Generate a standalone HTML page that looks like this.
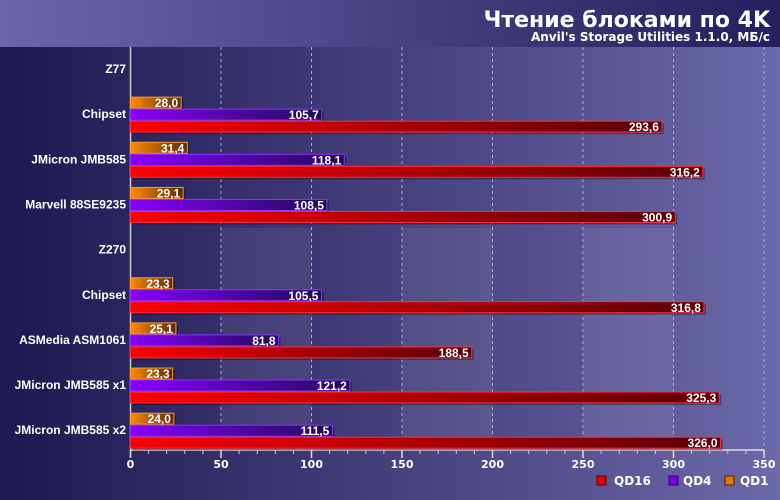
<!DOCTYPE html>
<html><head><meta charset="utf-8"><style>
html,body{margin:0;padding:0;width:780px;height:500px;overflow:hidden;background:#1e1850;}
svg{display:block;}
svg text{font-family:"Liberation Sans","DejaVu Sans",sans-serif;font-weight:bold;}
</style></head><body>
<svg id="c" width="780" height="500" xmlns="http://www.w3.org/2000/svg">
<defs>
<linearGradient id="hdr" x1="0" x2="1"><stop offset="0" stop-color="#6a66a8"/><stop offset="1" stop-color="#24205e"/></linearGradient>
<linearGradient id="bg" x1="0" x2="1"><stop offset="0" stop-color="#1e1850"/><stop offset="1" stop-color="#6c69aa"/></linearGradient>
<linearGradient id="gr" x1="0" x2="1"><stop offset="0" stop-color="#ff0000"/><stop offset="1" stop-color="#5a0008"/></linearGradient>
<linearGradient id="gp" x1="0" x2="1"><stop offset="0" stop-color="#8800ff"/><stop offset="1" stop-color="#200a5a"/></linearGradient>
<linearGradient id="go" x1="0" x2="1"><stop offset="0" stop-color="#ff8a00"/><stop offset="1" stop-color="#5a2a08"/></linearGradient>
</defs>
<rect width="780" height="500" fill="url(#bg)"/>
<rect width="780" height="47" fill="url(#hdr)"/>
<text x="770" y="27" text-anchor="end" fill="#fff" font-size="22" style="font-family:'DejaVu Sans',sans-serif">Чтение блоками по 4K</text>
<text x="770" y="41" text-anchor="end" fill="#fff" font-size="12" style="font-family:'DejaVu Sans',sans-serif">Anvil's Storage Utilities 1.1.0, МБ/с</text>
<g id="plot"></g>
<g>
<rect x="597" y="476" width="9" height="9" fill="#e00010" stroke="#600"/>
<text x="614" y="485" fill="#fff" font-size="12" style="font-family:'DejaVu Sans',sans-serif">QD16</text>
<rect x="669" y="476" width="9" height="9" fill="#7a00ee" stroke="#306"/>
<text x="683" y="485" fill="#fff" font-size="12" style="font-family:'DejaVu Sans',sans-serif">QD4</text>
<rect x="725" y="476" width="9" height="9" fill="#e07800" stroke="#520"/>
<text x="740" y="485" fill="#fff" font-size="12" style="font-family:'DejaVu Sans',sans-serif">QD1</text>
</g>
</svg>
<script>
const categories=["Z77","Chipset","JMicron JMB585","Marvell 88SE9235","Z270","Chipset","ASMedia ASM1061","JMicron JMB585 x1","JMicron JMB585 x2"];
const qd1=[null,28.0,31.4,29.1,null,23.3,25.1,23.3,24.0];
const qd4=[null,105.7,118.1,108.5,null,105.5,81.8,121.2,111.5];
const qd16=[null,293.6,316.2,300.9,null,316.8,188.5,325.3,326.0];
const ticks=[0,50,100,150,200,250,300,350];
const NS="http://www.w3.org/2000/svg";
const g=document.getElementById('plot');
const x0=130.5,xs=1.81;
const X=v=>x0+v*xs;
const Y=i=>69+45.15*i;
function mk(t,a){const e=document.createElementNS(NS,t);for(const k in a)e.setAttribute(k,a[k]);g.appendChild(e);return e;}
[[50,100],[150,200],[250,300]].forEach(b=>{
 const r=mk('rect',{x:X(b[0]),y:228,width:X(b[1])-X(b[0]),height:222,fill:'#fff','fill-opacity':0.07});
 
 
});
ticks.forEach(t=>{
 if(t>0){const l=mk('line',{x1:X(t),x2:X(t),y1:47,y2:450,stroke:'#a8a8d0','stroke-dasharray':'3,3','stroke-width':1});
 
 }
 const tl=mk('line',{x1:X(t),x2:X(t),y1:450,y2:458,stroke:'#ddd','stroke-width':1.5});
 
 
 const tx=mk('text',{x:X(t),y:468,'text-anchor':'middle',fill:'#fff','font-size':11,style:"font-family:'DejaVu Sans',sans-serif"});
 tx.textContent=t;
 
 
});
for(let t=10;t<350;t+=10){if(t%50){const m=mk('line',{x1:X(t),x2:X(t),y1:450,y2:454,stroke:'#ccc'});
 
 }}
const ax=mk('line',{x1:x0,x2:X(350),y1:450,y2:450,stroke:'#ddd','stroke-width':1.5});


const ay=mk('line',{x1:x0,x2:x0,y1:47,y2:458,stroke:'#ccc','stroke-width':1.5});


const fmt=v=>v.toFixed(1).replace('.',',');
function bar(v,y,fill,stroke,name){
 const s=mk('rect',{x:x0+2,y:y+2,width:v*xs,height:11,fill:'#000','fill-opacity':0.35});
 
 
 const r=mk('rect',{x:x0,y:y,width:v*xs,height:11,fill:fill,stroke:stroke,'stroke-width':1});
 
 
 const t=mk('text',{x:X(v)-3,y:y+10,'text-anchor':'end',fill:'#fff','font-size':12});
 t.textContent=fmt(v);
 
 
}
categories.forEach((c,i)=>{
 const y=Y(i);
 const l=mk('text',{x:126,y:y+4,'text-anchor':'end',fill:'#fff','font-size':12});
 l.textContent=c;
 
 
 if(qd1[i]!=null)bar(qd1[i],y-17,'url(#go)','#ff9a30','bar-qd1');
 if(qd4[i]!=null)bar(qd4[i],y-5,'url(#gp)','#9030ff','bar-qd4');
 if(qd16[i]!=null)bar(qd16[i],y+7,'url(#gr)','#ff3040','bar-qd16');
});
</script>
</body></html>
